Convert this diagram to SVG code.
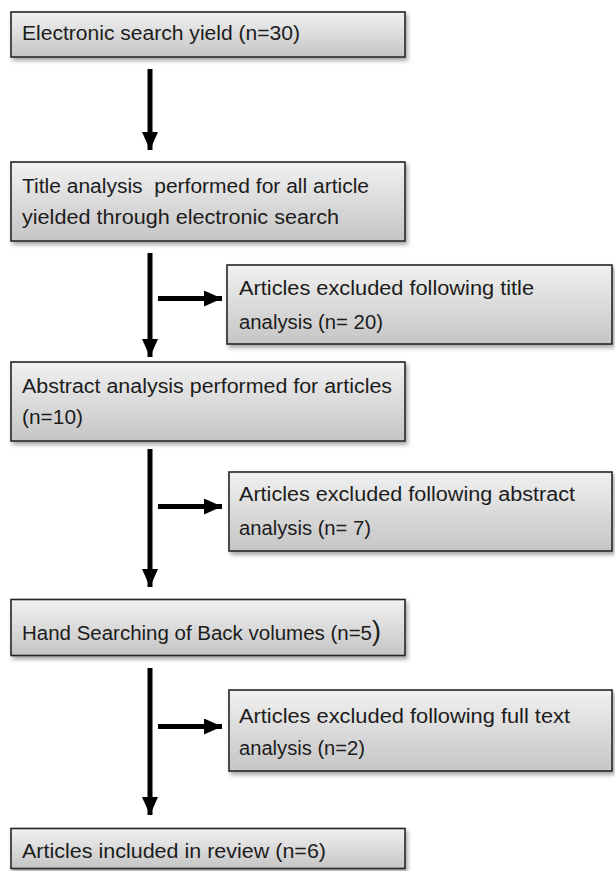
<svg xmlns="http://www.w3.org/2000/svg" width="615" height="871" viewBox="0 0 615 871">
<style>
.box{fill:url(#g);stroke:#262626;stroke-width:1.6;filter:url(#sh)}
.t{font-family:"Liberation Sans",Arial,sans-serif;font-size:20px;fill:#1c1c1c;white-space:pre}
.c{stroke:#000;stroke-width:5;fill:none}
</style>
<defs>
<linearGradient id="g" x1="0" y1="0" x2="0" y2="1">
<stop offset="0" stop-color="#f1f1f1"/>
<stop offset="1" stop-color="#c5c5c5"/>
</linearGradient>
<filter id="sh" x="-5%" y="-20%" width="115%" height="150%">
<feDropShadow dx="2" dy="3" stdDeviation="2" flood-color="#000" flood-opacity="0.35"/>
</filter>
<marker id="ah" markerUnits="userSpaceOnUse" markerWidth="18" markerHeight="16" refX="18" refY="8" orient="auto">
<polygon points="0,0 18,8 0,16" fill="#000"/>
</marker>
</defs>
<g id="connectors">
<line class="c" x1="150" y1="69" x2="150" y2="150" marker-end="url(#ah)"/>
<line class="c" x1="150" y1="253" x2="150" y2="357" marker-end="url(#ah)"/>
<line class="c" x1="158" y1="298.5" x2="222" y2="298.5" marker-end="url(#ah)"/>
<line class="c" x1="150" y1="449" x2="150" y2="587" marker-end="url(#ah)"/>
<line class="c" x1="158" y1="506.5" x2="222" y2="506.5" marker-end="url(#ah)"/>
<line class="c" x1="150" y1="668" x2="150" y2="815" marker-end="url(#ah)"/>
<line class="c" x1="158" y1="726.5" x2="222" y2="726.5" marker-end="url(#ah)"/>
</g>
<g id="n1">
<rect class="box" x="11" y="12" width="394" height="45"/>
<text class="t" x="22" y="40" textLength="278" lengthAdjust="spacingAndGlyphs">Electronic search yield (n=30)</text>
</g>
<g id="n2">
<rect class="box" x="11" y="162" width="394" height="79"/>
<text class="t" x="22" y="193" textLength="347" lengthAdjust="spacingAndGlyphs">Title analysis  performed for all article</text>
<text class="t" x="22" y="224" textLength="317" lengthAdjust="spacingAndGlyphs">yielded through electronic search</text>
</g>
<g id="e1">
<rect class="box" x="227" y="265" width="385" height="79"/>
<text class="t" x="239" y="294.5" textLength="295" lengthAdjust="spacingAndGlyphs">Articles excluded following title</text>
<text class="t" x="239" y="328.5" textLength="144" lengthAdjust="spacingAndGlyphs">analysis (n= 20)</text>
</g>
<g id="n3">
<rect class="box" x="11" y="362" width="394" height="79"/>
<text class="t" x="22" y="393" textLength="370" lengthAdjust="spacingAndGlyphs">Abstract analysis performed for articles</text>
<text class="t" x="22" y="424" textLength="61" lengthAdjust="spacingAndGlyphs">(n=10)</text>
</g>
<g id="e2">
<rect class="box" x="229" y="472" width="383" height="79"/>
<text class="t" x="239" y="501" textLength="336" lengthAdjust="spacingAndGlyphs">Articles excluded following abstract</text>
<text class="t" x="239" y="534.5" textLength="132" lengthAdjust="spacingAndGlyphs">analysis (n= 7)</text>
</g>
<g id="n4">
<rect class="box" x="11" y="599.5" width="394" height="56"/>
<text class="t" x="22" y="639.5" textLength="350" lengthAdjust="spacingAndGlyphs">Hand Searching of Back volumes (n=5</text>
<text class="t" x="372" y="640" style="font-size:27px">)</text>
</g>
<g id="e3">
<rect class="box" x="229" y="690" width="383" height="81"/>
<text class="t" x="239" y="723" textLength="331" lengthAdjust="spacingAndGlyphs">Articles excluded following full text</text>
<text class="t" x="239" y="755" textLength="126" lengthAdjust="spacingAndGlyphs">analysis (n=2)</text>
</g>
<g id="n5">
<rect class="box" x="11" y="828.5" width="394" height="40"/>
<text class="t" x="22" y="858" textLength="304" lengthAdjust="spacingAndGlyphs">Articles included in review (n=6)</text>
</g>
</svg>
